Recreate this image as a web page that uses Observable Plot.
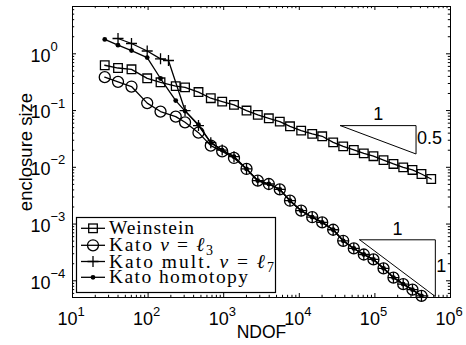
<!DOCTYPE html>
<html><head><meta charset="utf-8">
<script src="https://cdn.jsdelivr.net/npm/d3@7"></script>
<script src="https://cdn.jsdelivr.net/npm/@observablehq/plot@0.6"></script>
<style>
body{margin:0;background:#fff;}
#chart{position:relative;width:466px;height:345px;}
#legend{position:absolute;left:0;top:0;}
</style></head><body><div id="chart"></div>
<script>
// ---- data ----
const ndof = [26.7, 40, 60.3, 97.3, 146, 232, 308, 464, 675, 955, 1368, 2004, 2825, 3951, 5521, 7534,
  10590, 14830, 20090, 28060, 38080, 52600, 71300, 95700, 130000, 176000, 237000, 314000, 413000, 556000];
const weinstein = [0.629, 0.562, 0.533, 0.370, 0.315, 0.270, 0.256, 0.212, 0.165, 0.144, 0.126, 0.100,
  0.0839, 0.0731, 0.0639, 0.0528, 0.0443, 0.0388, 0.0352, 0.0275, 0.0234, 0.0202, 0.0176, 0.0157,
  0.0134, 0.01145, 0.00998, 0.00898, 0.00763, 0.00622];
const katoL3 = [0.388, 0.321, 0.265, 0.1355, 0.0960, 0.0783, 0.0621, 0.0408, 0.0241, 0.0191, 0.01462,
  0.00935, 0.00581, 0.00508, 0.00408, 0.00258, 0.00172, 0.00132, 0.00107, 0.000794, 0.000507,
  0.000372, 0.000291, 0.000238, 0.000166, 0.000114, 8.74e-5, 6.98e-5, 5.43e-5];
const multNdof = [40, 60.3, 97.3, 146, 186, 308, 464, 675, 955, 1368, 2004, 2825, 3951, 5521, 7534,
  10590, 14830, 20090, 28060, 38080, 52600, 71300, 95700, 130000, 176000, 237000, 314000, 413000];
const katoMult = [1.862, 1.52, 1.12, 0.816, 0.762, 0.100, 0.0543, 0.0272, 0.0201, 0.01542,
  0.00935, 0.00581, 0.00508, 0.00408, 0.00258, 0.00172, 0.00132, 0.00107, 0.000794, 0.000507,
  0.000372, 0.000291, 0.000238, 0.000166, 0.000114, 8.74e-5, 6.98e-5, 5.43e-5];
const homNdof = [26.7, 40, 60.3, 97.3, 146, 232, 308, 464, 675, 955, 1368, 2004, 2825, 3951, 5521, 7534,
  10590, 14830, 20090, 28060, 38080, 52600, 71300, 95700, 130000, 176000, 237000, 314000, 413000];
const katoHom = [1.79, 1.42, 1.14, 0.860, 0.367, 0.150, 0.098, 0.0565, 0.0272, 0.0201, 0.0154,
  0.00935, 0.00581, 0.00508, 0.00408, 0.00258, 0.00172, 0.00132, 0.00107, 0.000794, 0.000507,
  0.000372, 0.000291, 0.000238, 0.000166, 0.000114, 8.74e-5, 6.98e-5, 5.43e-5];

// slope triangles (data coordinates)
const tri1X = [3.5e4, 3.5e5, 3.5e5, 3.5e4];
const tri1Y = [0.0543, 0.0543, 0.01717, 0.0543];
const tri2X = [6.3e4, 6.3e5, 6.3e5, 6.3e4];
const tri2Y = [5.28e-4, 5.28e-4, 5.28e-5, 5.28e-4];
const triLabels = ["1", "0.5", "1", "1"];

// axes
const xDomain = [10, 1e6];
const yDomain = [5.08e-5, 6.82];
const xMajor = [1e1, 1e2, 1e3, 1e4, 1e5, 1e6];
const xExp = ["1", "2", "3", "4", "5", "6"];
const yMajor = [1e-4, 1e-3, 1e-2, 1e-1, 1e0];
const yExp = ["\u22124", "\u22123", "\u22122", "\u22121", "0"];
const minorMult = [2, 3, 4, 5, 6, 7, 8, 9];
const xMinor = [1e1, 1e2, 1e3, 1e4, 1e5].flatMap(d => minorMult.map(m => d * m));
const yMinor = [1e-5, 1e-4, 1e-3, 1e-2, 1e-1, 1e0].flatMap(d => minorMult.map(m => d * m))
  .filter(v => v > yDomain[0] && v < yDomain[1]);

const legendNames = ["Weinstein", "Kato ", "Kato mult. ", "Kato homotopy"];

// ---- build ----
const W = 466, H = 345, mL = 72, mR = 16, mT = 6, mB = 48;
const fw = W - mL - mR, fh = H - mT - mB;
const sq = {draw(ctx, size) { const r = Math.sqrt(size / Math.PI); ctx.rect(-r, -r, 2 * r, 2 * r); }};
const plus = {draw(ctx, size) { const r = Math.sqrt(size / Math.PI);
  ctx.moveTo(-r, 0); ctx.lineTo(r, 0); ctx.moveTo(0, -r); ctx.lineTo(0, r); }};

const wData = ndof.map((x, i) => ({x, y: weinstein[i]}));
const l3Data = katoL3.map((y, i) => ({x: ndof[i], y}));
const mData = katoMult.map((y, i) => ({x: multNdof[i], y}));
const hData = katoHom.map((y, i) => ({x: homNdof[i], y}));
const t1 = tri1X.map((x, i) => ({x, y: tri1Y[i]}));
const t2 = tri2X.map((x, i) => ({x, y: tri2Y[i]}));
const triTop = [
  {x: Math.sqrt(tri1X[0] * tri1X[1]), y: tri1Y[0], t: triLabels[0]},
  {x: Math.sqrt(tri2X[0] * tri2X[1]), y: tri2Y[0], t: triLabels[2]}
];
const triSide = [
  {x: tri1X[1], y: Math.sqrt(tri1Y[1] * tri1Y[2]), t: triLabels[1]},
  {x: tri2X[1], y: Math.sqrt(tri2Y[1] * tri2Y[2]), t: triLabels[3]}
];

const sw = 1.3;
const chart = Plot.plot({
  width: W, height: H, marginLeft: mL, marginRight: mR, marginTop: mT, marginBottom: mB,
  style: {fontFamily: "'Liberation Sans', Arial, sans-serif", background: "white", color: "black"},
  x: {type: "log", domain: xDomain, axis: null},
  y: {type: "log", domain: yDomain, axis: null},
  marks: [
    // slope triangles
    Plot.line(t1, {x: "x", y: "y", stroke: "black", strokeWidth: 1}),
    Plot.line(t2, {x: "x", y: "y", stroke: "black", strokeWidth: 1}),
    Plot.text(triTop, {x: "x", y: "y", text: "t", textAnchor: "middle", dy: -11, fontSize: 18}),
    Plot.text(triSide, {x: "x", y: "y", text: "t", textAnchor: "start", dx: 1, dy: -2, fontSize: 18}),
    // series
    Plot.line(wData, {x: "x", y: "y", stroke: "black", strokeWidth: sw}),
    Plot.dot(wData, {x: "x", y: "y", symbol: sq, r: 4.3, stroke: "black", strokeWidth: sw, fill: "none"}),
    Plot.line(l3Data, {x: "x", y: "y", stroke: "black", strokeWidth: sw}),
    Plot.dot(l3Data, {x: "x", y: "y", symbol: "circle", r: 5.5, stroke: "black", strokeWidth: sw, fill: "none"}),
    Plot.line(mData, {x: "x", y: "y", stroke: "black", strokeWidth: sw}),
    Plot.dot(mData, {x: "x", y: "y", symbol: plus, r: 5.5, stroke: "black", strokeWidth: sw, fill: "none"}),
    Plot.line(hData, {x: "x", y: "y", stroke: "black", strokeWidth: sw}),
    Plot.dot(hData, {x: "x", y: "y", symbol: "circle", r: 2.4, fill: "black", stroke: "none"}),
    // ticks (inward, all four sides)
    Plot.tickX(xMajor, {x: d => d, insetTop: fh - 4, stroke: "black"}),
    Plot.tickX(xMajor, {x: d => d, insetBottom: fh - 4, stroke: "black"}),
    Plot.tickX(xMinor, {x: d => d, insetTop: fh - 2.2, stroke: "black"}),
    Plot.tickX(xMinor, {x: d => d, insetBottom: fh - 2.2, stroke: "black"}),
    Plot.tickY(yMajor, {y: d => d, insetRight: fw - 4, stroke: "black"}),
    Plot.tickY(yMajor, {y: d => d, insetLeft: fw - 4, stroke: "black"}),
    Plot.tickY(yMinor, {y: d => d, insetRight: fw - 2.2, stroke: "black"}),
    Plot.tickY(yMinor, {y: d => d, insetLeft: fw - 2.2, stroke: "black"}),
    Plot.frame({stroke: "black", strokeWidth: 1}),
    // tick labels
    Plot.text(xMajor, {x: d => d, frameAnchor: "bottom", text: () => "10", textAnchor: "end", dx: 5, dy: 27, fontSize: 18}),
    Plot.text(xMajor, {x: d => d, frameAnchor: "bottom", text: (d, i) => xExp[i], textAnchor: "start", dx: 5, dy: 18, fontSize: 13}),
    Plot.text(yMajor, {y: d => d, frameAnchor: "left", text: () => "10", textAnchor: "end", dx: -22, dy: 2, fontSize: 18}),
    Plot.text(yMajor, {y: d => d, frameAnchor: "left", text: (d, i) => yExp[i], textAnchor: "start", dx: -22, dy: -7, fontSize: 13}),
    // axis titles
    Plot.text(["NDOF"], {frameAnchor: "bottom", text: d => d, textAnchor: "middle", dy: 40, fontSize: 17.5}),
    Plot.text(["enclosure size"], {frameAnchor: "left", text: d => d, textAnchor: "middle", rotate: -90, dx: -46, fontSize: 18.5})
  ]
});
const holder = document.getElementById("chart");
holder.appendChild(chart);

// ---- legend (overlay svg) ----
const lsvg = d3.select(holder).append("svg").attr("id", "legend").attr("width", W).attr("height", H);
lsvg.append("rect").attr("x", 76.5).attr("y", 217.5).attr("width", 199).attr("height", 75)
  .attr("fill", "white").attr("stroke", "black").attr("stroke-width", 1.2);
const rowsY = [228.3, 245.3, 261.5, 277.3];
const textLen = [85, 104, 165, 139];
rowsY.forEach((cy, i) => {
  lsvg.append("line").attr("x1", 81).attr("x2", 105).attr("y1", cy).attr("y2", cy)
    .attr("stroke", "black").attr("stroke-width", sw);
  const cx = 93;
  if (i === 0) lsvg.append("rect").attr("x", cx - 4.3).attr("y", cy - 4.3).attr("width", 8.6).attr("height", 8.6)
    .attr("fill", "none").attr("stroke", "black").attr("stroke-width", sw);
  if (i === 1) lsvg.append("circle").attr("cx", cx).attr("cy", cy).attr("r", 5.5)
    .attr("fill", "none").attr("stroke", "black").attr("stroke-width", sw);
  if (i === 2) lsvg.append("path").attr("d", `M${cx - 5.5},${cy}H${cx + 5.5}M${cx},${cy - 5.5}V${cy + 5.5}`)
    .attr("stroke", "black").attr("stroke-width", sw);
  if (i === 3) lsvg.append("circle").attr("cx", cx).attr("cy", cy).attr("r", 2.4).attr("fill", "black");
  const t = lsvg.append("text").attr("x", 109).attr("y", cy + 6)
    .attr("textLength", textLen[i]).attr("lengthAdjust", "spacing")
    .style("font-family", "'Liberation Serif'").style("font-size", "19.5px");
  t.append("tspan").text(legendNames[i]);
  if (i === 1 || i === 2) {
    t.append("tspan").style("font-style", "italic").text("\u03BD");
    t.append("tspan").text(" = ");
    t.append("tspan").style("font-style", "italic").text("\u2113");
    t.append("tspan").style("font-size", "14px").attr("dy", 4).text(i === 1 ? "3" : "7");
  }
});
</script>
</body></html>
